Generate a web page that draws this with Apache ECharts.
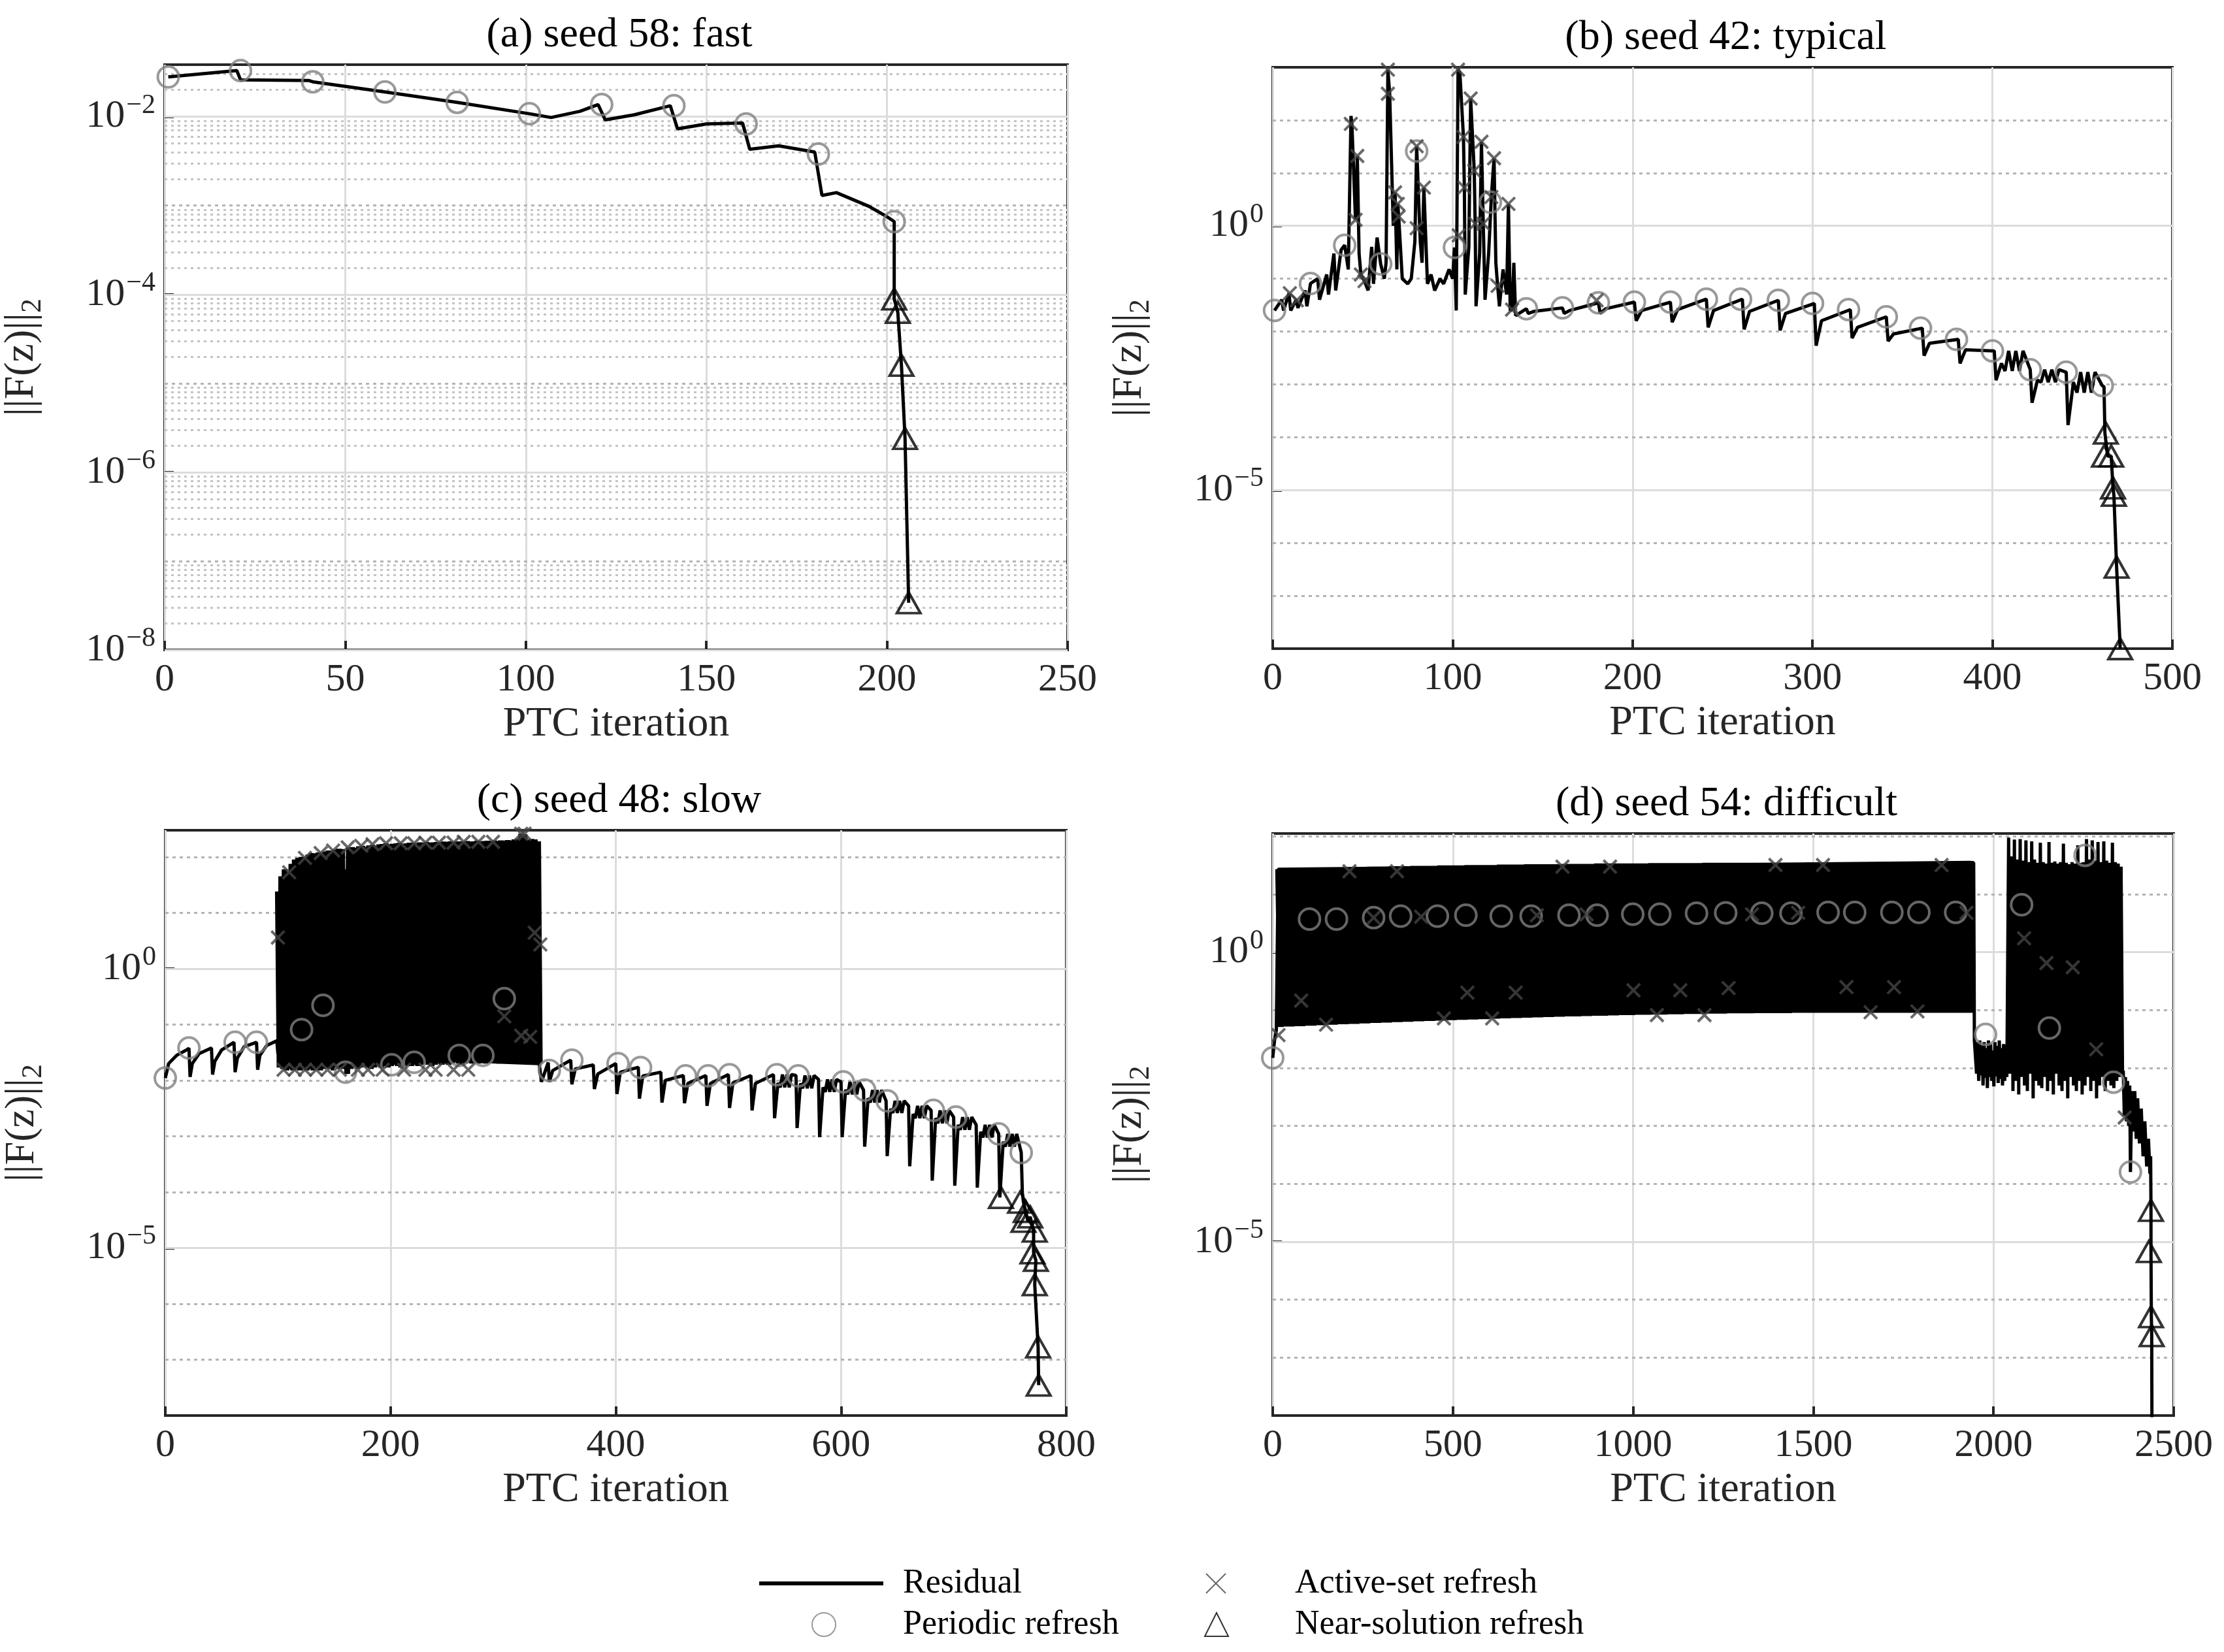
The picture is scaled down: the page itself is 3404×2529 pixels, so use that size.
<!DOCTYPE html>
<html>
<head>
<meta charset="utf-8">
<script src="https://cdn.jsdelivr.net/npm/echarts@6/dist/echarts.min.js"></script>
<style>html,body{margin:0;padding:0;background:#fff}#main{width:3404px;height:2529px}</style>
</head>
<body>
<div id="main"></div>
<script>
// ---- (a) seed 58: fast ----
var aLine = [[1,0.028],[20,0.033],[21,0.026],[40,0.0255],[41,0.0247],[61,0.019],[81,0.0145],[101,0.0108],[107,0.0098],
  [115,0.0115],[120,0.0137],[122,0.0092],[130,0.0105],[140,0.0133],[142,0.0073],[150,0.0083],[160,0.0085],[162,0.0043],
  [170,0.0047],[180,0.0040],[182,0.0013],[186,0.0014],[195,0.00098],[200,0.00075],[202,0.00066],[202,0.000089],
  [203,0.000063],[204,0.000016],[205,0.0000024],[206,0.000000034]];
var aPeriodic = [[1,0.028],[21,0.033],[41,0.0247],[61,0.019],[81,0.0145],[101,0.0108],[121,0.0137],[141,0.0133],[161,0.0083],[181,0.0038],[202,0.00066]];
var aActive = [];
var aNear = [[202,0.000089],[203,0.000063],[204,0.000016],[205,0.0000024],[206,0.000000034]];

// ---- (b) seed 42: typical ----
var bHead = [[1,0.025],[5,0.04],[6,0.025],[9,0.053],[10,0.025],[13,0.04],[14,0.028],[18,0.06],[19,0.03],[21,0.081],[25,0.1],
  [26,0.04],[30,0.12],[31,0.05],[34,0.3],[35,0.06],[38,0.35],[40,0.43],[42,0.15],[43.5,120],[44,85],[46,1.3],[47,21],[48,0.3],
  [49,0.12],[51,0.09],[53,0.06],[55,0.4],[56,0.08],[58,0.6],[60,0.19],[62,0.1],[63,0.2],[64,900],[65,316],[67,1],[68,4.3],
  [69,0.15],[69.5,2.6],[70,1.5],[72,0.1],[75,0.08],[77,0.1],[79,0.5],[80,32],[82,0.5],[83,0.2],[84,5.3],[86,0.08],[88,0.12],
  [90,0.06],[93,0.1],[95,0.08],[98,0.15],[100,0.1],[101,0.39],[102,0.025],[103,900],[104,800],[106,48],[106.5,5.3],[107,0.05],
  [109,0.4],[110,257],[112,11],[112.5,1.1],[113,0.03],[115,0.3],[116,39],[117,1.1],[118,0.04],[120,0.3],[121.5,3.5],[123,19],
  [124,0.2],[125,0.073],[126,0.03],[128,0.15],[130,0.05],[131,2.6],[132,0.025],[133,0.026],[134,0.2],[135,0.02]];
var bPeakX = [141,161,181,201,221,241,261,281,301,321,341,361,381,401,421,441];
var bPeakY = [0.027,0.028,0.035,0.036,0.036,0.041,0.041,0.039,0.034,0.026,0.019,0.0116,0.0071,0.0043,0.0019,0.0017];
var bDipY  = [0.022,0.022,0.022,0.016,0.015,0.012,0.011,0.0105,0.0054,0.0075,0.0066,0.0035,0.0025,0.0012,0.00045,0.00017];
var bRecY  = [0.024,0.025,0.027,0.025,0.026,0.025,0.024,0.022,0.016,0.012,0.009,0.006,0.0045,0.0025,0.0012,0.0011];
var bLoY   = [null,null,null,null,null,null,null,null,null,null,null,null,null,0.0018,0.0011,0.0007];
var bTail = [[461,0.00095],[462,0.0009],[462.5,0.00012],[463,0.00012],[464,0.000044],[466,0.000044],[467,0.000011],
  [467.5,0.000008],[469,0.00000035],[471,0.00000001]];
var bPeriodic = [[1,0.025],[21,0.081],[40,0.43],[60,0.19],[80,26],[101,0.39],[121,2.8],[141,0.027],[161,0.028],[181,0.035],
  [201,0.036],[221,0.036],[241,0.041],[260,0.041],[281,0.039],[300,0.034],[320,0.026],[341,0.019],[360,0.0116],[380,0.0071],
  [400,0.0043],[421,0.0019],[441,0.0017],[461,0.00095]];
var bActive = [[9.5,0.053],[13.4,0.039],[43.4,85],[47,21],[46,1.3],[49,0.12],[51,0.09],[64,900],[64,316],[68,4.3],[69.5,2.6],
  [70,1.5],[80,32],[80,0.9],[84,5.3],[103,900],[103.4,0.66],[106,48],[106.5,5.3],[110,257],[112,11],[112.5,1.1],[116,39],
  [117,1.1],[121.5,3.5],[123,19],[125,0.073],[131,2.6],[133,0.026],[180,0.039]];
var bNear = [[463,0.00012],[462,0.000044],[466,0.000044],[467,0.000011],[467.5,0.000008],[469,0.00000035],[471,0.00000001]];

// ---- (c) seed 48: slow ----
var cHead = [[0,0.011],[3,0.02],[10,0.028],[20,0.036],[21,0.038],[22,0.0115],[24,0.02],[30,0.03],[41,0.038],[42,0.0127],
  [44,0.022],[50,0.035],[61,0.048],[62,0.014],[64,0.025],[70,0.04],[81,0.048],[82,0.0155],[84,0.028],[90,0.042],[99,0.051],[100,0.03]];
var cOscStart = 100, cOscStep = 3;
var cOscTop = [24,45,60,53,75,90,96,100,96,110, 117,115,120,117,125,130,128,135,140,138,
  60,148,150,145,155,158,150,160,165,158, 168,170,175,168,172,175,178,170,175,180,
  178,175,182,180,185,178,182,185,180,188, 185,190,182,188,190,185,192,188,190,195,
  188,192,195,190,196,192,198,195,200,196, 205,210,260,255,200,210,205,190];
var cOscBot = [0.017,0.016,0.015,0.016,0.015,0.016,0.015,0.016,0.015,0.016, 0.015,0.016,0.015,0.016,0.017,0.016,0.015,0.016,0.017,0.016,
  0.013,0.016,0.017,0.016,0.017,0.018,0.017,0.016,0.017,0.018, 0.017,0.018,0.017,0.018,0.019,0.018,0.017,0.018,0.019,0.018,
  0.019,0.018,0.019,0.02,0.019,0.018,0.019,0.02,0.019,0.02, 0.019,0.02,0.021,0.02,0.019,0.02,0.021,0.02,0.021,0.02,
  0.021,0.02,0.021,0.022,0.021,0.02,0.021,0.022,0.021,0.02, 0.021,0.022,0.021,0.02,0.021,0.02,0.021,0.02];
var cMid = [[333,0.02],[334,0.0094]];
var cPeakX = [340,360,380,400,420,440,460,480,500,520,540,560,580,600,620,640,660,680,700,720,740,760];
var cPeakY = [0.0208,0.023,0.0189,0.020,0.0171,0.014,0.0122,0.0122,0.0127,0.0122,0.0127,0.0122,0.0104,0.0094,0.0067,0.0043,0.0035,0.0029,0.0022,0.0016,0.0011,0.00051];
var cDipY  = [0.0094,0.0085,0.0070,0.0057,0.0047,0.0040,0.0039,0.0035,0.0032,0.0029,0.0021,0.0014,0.00096,0.00096,0.00065,0.00044,0.00029,0.00016,0.00013,0.00012,0.00008,0.000098];
var cRecY  = [0.015,0.016,0.013,0.014,0.012,0.010,0.0088,0.0088,0.009,0.0088,0.009,0.0088,0.0075,0.0068,0.0048,0.0031,0.0025,0.0021,0.0016,0.0012,0.0008,null];
var cLoY   = [null,null,null,null,null,null,null,null,null,null,0.0075,0.0072,0.0062,0.0056,0.004,0.0026,0.0021,0.0017,0.0013,0.00095,0.00065,null];
var cTail = [[762,0.000066],[764,0.000045],[766,0.00003],[768,0.000036],[771,0.00002],[771,0.0000082],[773,0.000006],
  [772,0.0000022],[775,0.00000017],[775.5,0.000000035]];
var cPeriodic = [[0,0.011],[21,0.038],[62,0.048],[81,0.048],[121,0.081],[140,0.22],[160,0.014],[201,0.019],[221,0.021],
  [261,0.028],[282,0.028],[301,0.29],[341,0.015],[361,0.023],[402,0.020],[422,0.017],[462,0.012],[482,0.012],[501,0.0126],
  [543,0.0126],[562,0.012],[602,0.0094],[621,0.0067],[641,0.0043],[682,0.0029],[702,0.0022],[740,0.0011],[760,0.00051]];
var cActive = [[100,3.6],[110,53],[124,96],[138,117],[149,130],[162,148],[174,158],[184,168],[196,175],[209,175],[221,175],
  [231,180],[243,180],[256,180],[265,186],[278,186],[291,186],[316,260],[319,260],[328,4.4],[333,2.7],[301,0.14],[316,0.063],
  [324,0.06],[105,0.0155],[115,0.0155],[124,0.0155],[134,0.0155],[144,0.0155],[155,0.0155],[171,0.0155],[180,0.0155],
  [193,0.0155],[212,0.0155],[231,0.0155],[240,0.0155],[256,0.0155],[269,0.0155]];
var cNear = [[742,0.00008],[759,0.000066],[764,0.000045],[762,0.00003],[768,0.000036],[772,0.00002],[770,0.0000082],
  [773,0.000006],[772,0.0000022],[775,0.00000017],[775.5,0.000000035]];

// ---- (d) seed 54: difficult ----
var dHead = [[0,0.015],[5,0.03],[10,0.045]];
var dBandStart = 15, dBandStep = 15;
var dBandTop = [27,27,27.5,27.5,28,28,28,28.5,28.5,28.5,29,29,29,
  29,29.5,29.5,29.5,30,30,30,30,30.5,30.5,30.5,30.5,31,
  31,31,31,31,31.5,31.5,31.5,31.5,31.5,32,32,32,32,
  32,32,32.5,32.5,32.5,32.5,32.5,33,33,33,33,33,33,
  33,33.5,33.5,33.5,33.5,33.5,33.5,34,34,34,34,34,34,
  34,34,34,34,34.5,34.5,34.5,34.5,34.5,34.5,34.5,34.5,34.5,
  34.5,35,35,35,35,35,35,35,35,35,35,35,35,
  35,35,35,35,35,35,35,35.5,35.5,35.5,35.5,35.5,35.5,
  35.5,35.5,35.5,35.5,35.5,35.5,35.5,35.5,35.5,35.5,35.5,35.5,35.5,
  35.5,35.5,35.5,35.5,35.5,35.5,35.5,35.5,35.5,35.5,35.5,35.5];
var dBandBot = [0.051,0.052,0.052,0.053,0.053,0.054,0.054,0.055,0.055,0.056,0.056,0.057,0.057,
  0.058,0.058,0.059,0.059,0.06,0.06,0.061,0.061,0.062,0.062,0.063,0.063,0.064,
  0.064,0.065,0.065,0.066,0.066,0.067,0.067,0.068,0.068,0.069,0.069,0.07,0.07,
  0.071,0.071,0.072,0.072,0.073,0.073,0.074,0.074,0.075,0.075,0.076,0.076,0.077,
  0.077,0.078,0.078,0.078,0.079,0.079,0.08,0.08,0.08,0.081,0.081,0.082,0.082,
  0.082,0.083,0.083,0.083,0.084,0.084,0.084,0.085,0.085,0.085,0.086,0.086,0.086,
  0.086,0.087,0.087,0.087,0.087,0.088,0.088,0.088,0.088,0.088,0.089,0.089,0.089,
  0.089,0.089,0.089,0.089,0.09,0.09,0.09,0.09,0.09,0.09,0.09,0.09,0.09,
  0.09,0.09,0.09,0.09,0.09,0.09,0.09,0.09,0.09,0.09,0.09,0.09,0.09,
  0.09,0.09,0.09,0.09,0.09,0.09,0.09,0.09,0.09,0.09,0.09,0.09];
var dDropStart = 1950, dDropStep = 6;
var dDropTop = [0.03,0.028,0.03,0.025,0.028,0.022,0.03,0.026,0.02,0.028,0.024,0.03,0.022,0.026,0.025];
var dDropBot = [0.008,0.006,0.0075,0.005,0.0068,0.0045,0.007,0.006,0.0048,0.0072,0.0055,0.0065,0.005,0.006,0.007];
var dBand2Start = 2042, dBand2Step = 8;
var dBand2Top = [95,45,88,40,90,38,85,36,82,40,35,78,36,34,80,35,37,34,36,75,35,33,36,34,70,35,36,90,40,85,38,80,36,82,38,35,78,36,34,30];
var dBand2Bot = [0.008,0.004,0.006,0.0035,0.007,0.005,0.004,0.008,0.003,0.006,0.005,0.0045,0.007,0.004,0.006,0.0035,0.008,0.005,0.004,0.006,
  0.003,0.007,0.005,0.004,0.006,0.0035,0.005,0.007,0.004,0.006,0.003,0.005,0.007,0.004,0.006,0.005,0.0045,0.006,0.007,0.008];
var dTail = [[2360,0.009],[2363,0.0015],[2366,0.007],[2369,0.0012],[2372,0.006],[2375,0.001],[2378,0.005],[2380,0.00016],
  [2384,0.004],[2388,0.0008],[2392,0.004],[2396,0.0006],[2400,0.003],[2405,0.0005],[2410,0.002],[2415,0.0003],[2420,0.0012],
  [2425,0.0002],[2430,0.0006],[2434,0.00015],[2436,0.0003],[2437,0.000035],[2437,0.0000068],[2438,0.00000051],
  [2439,0.00000024],[2440,0.000000001]];
var dPeriodic = [[0,0.015],[102,3.73],[177,3.73],[280,3.95],[355,4.19],[457,4.19],[536,4.35],[634,4.19],[717,4.19],[822,4.35],
  [900,4.35],[999,4.52],[1074,4.52],[1176,4.7],[1257,4.78],[1357,4.7],[1438,4.7],[1541,4.88],[1615,4.88],[1718,4.88],
  [1793,4.88],[1895,4.88],[1978,0.038],[2078,6.6],[2155,0.049],[2254,47],[2333,0.0057],[2380,0.00016]];
var dActive = [[16,0.037],[79,0.146],[148,0.056],[213,25],[280,3.95],[345,25],[412,4.1],[475,0.072],[540,0.2],[609,0.072],
  [674,0.2],[733,4.35],[804,30],[871,4.5],[936,30],[1001,0.22],[1066,0.082],[1131,0.22],[1198,0.082],[1265,0.24],[1330,4.5],
  [1395,32],[1458,4.78],[1527,32],[1592,0.25],[1659,0.092],[1724,0.25],[1789,0.095],[1856,32],[1925,4.78],[2085,1.74],
  [2147,0.65],[2220,0.55],[2285,0.021],[2364,0.0014]];
var dNear = [[2437,0.000035],[2431,0.0000068],[2437,0.00000051],[2439,0.00000024]];

// ---- build residual lines from the arrays ----
function osc(start, step, top, bot) {
  var out = [];
  for (var i = 0; i < top.length; i++) {
    out.push([start + i * step, top[i]]);
    out.push([start + i * step + step / 2, bot[i]]);
  }
  return out;
}
function blocks(px, py, dip, rec, lo) {
  var out = [];
  for (var i = 0; i < px.length; i++) {
    out.push([px[i], py[i]]);
    out.push([px[i] + 1, dip[i]]);
    if (rec[i] != null) out.push([px[i] + 4, rec[i]]);
    if (lo[i] != null) {
      for (var k = 6; k <= 16; k += 4) {
        out.push([px[i] + k, lo[i]]);
        out.push([px[i] + k + 2, py[i]]);
      }
    }
  }
  return out;
}
var bLine = bHead.concat(blocks(bPeakX, bPeakY, bDipY, bRecY, bLoY), bTail);
var cBand = osc(cOscStart, cOscStep, cOscTop, cOscBot);
var cLine = cHead.concat(cMid, blocks(cPeakX, cPeakY, cDipY, cRecY, cLoY), cTail);
cLine.splice(cHead.length, 0, [332, 0.02]);
var dBand = osc(dBandStart, dBandStep, dBandTop, dBandBot);
var dLine = dHead.concat([[15, 27]], [[1935, 35.5], [1945, 35], [1947, 0.03]],
  osc(dDropStart, dDropStep, dDropTop, dDropBot), osc(dBand2Start, dBand2Step, dBand2Top, dBand2Bot), dTail);

var panels = [
  {title: '(a) seed 58: fast', grid: {left: 252, top: 99, width: 1382, height: 896}, xmax: 250, xint: 50,
   ymax: 0.0385, labels: [-2, -4, -6, -8], minor: true,
   line: aLine, band: null, per: aPeriodic, act: aActive, near: aNear},
  {title: '(b) seed 42: typical', grid: {left: 1948, top: 103, width: 1377, height: 890}, xmax: 500, xint: 100,
   ymax: 1000, labels: [0, -5], minor: false,
   line: bLine, band: null, per: bPeriodic, act: bActive, near: bNear},
  {title: '(c) seed 48: slow', grid: {left: 253, top: 1271, width: 1379, height: 896}, xmax: 800, xint: 200,
   ymax: 300, labels: [0, -5], minor: false,
   line: cLine, band: cBand, per: cPeriodic, act: cActive, near: cNear},
  {title: '(d) seed 54: difficult', grid: {left: 1948, top: 1276, width: 1379, height: 891}, xmax: 2500, xint: 500,
   ymax: 112, labels: [0, -5], minor: false,
   line: dLine, band: dBand, per: dPeriodic, act: dActive, near: dNear}
];

var FONT = 'Liberation Serif';
var INK = '#262626';
var CROSS = 'path://M0,0L10,10M10,0L0,10';
function legendItem(name, left, top, w, h, pad, icon) {
  var d = {name: name};
  if (icon) d.icon = icon;
  return {data: [d], left: left, top: top, itemWidth: w, itemHeight: h, selectedMode: false,
    textStyle: {fontFamily: FONT, fontSize: 52, color: '#000', padding: [0, 0, 0, pad]}};
}
var option = {
  backgroundColor: '#fff',
  animation: false,
  textStyle: {fontFamily: FONT, color: INK},
  title: [], grid: [], xAxis: [], yAxis: [], series: [],
  legend: [
    legendItem('Residual', 1157, 2393, 190, 6, 25, 'rect'),
    legendItem('Periodic refresh', 1237, 2456, 36, 36, 98),
    legendItem('Active-set refresh', 1840, 2393, 30, 30, 101),
    legendItem('Near-solution refresh', 1838, 2456, 36, 36, 97)
  ]
};

panels.forEach(function (p, i) {
  var labs = p.labels;
  var decades = [];
  for (var e = -8; Math.pow(10, e) <= p.ymax * 1.0001; e++) decades.push(Math.pow(10, e));
  var majors = labs.map(function (e) { return Math.pow(10, e); });

  option.grid.push(Object.assign({show: true, borderColor: INK, borderWidth: 4, backgroundColor: '#fff'}, p.grid));
  option.title.push({text: p.title, left: p.grid.left + p.grid.width / 2, top: p.grid.top - 82, textAlign: 'center',
    textStyle: {fontFamily: FONT, fontSize: 64, fontWeight: 'normal', color: '#000'}});
  option.xAxis.push({type: 'value', gridIndex: i, min: 0, max: p.xmax, interval: p.xint,
    name: 'PTC iteration', nameLocation: 'middle', nameGap: 82,
    nameTextStyle: {fontFamily: FONT, fontSize: 64, color: INK},
    axisLine: {show: false}, axisTick: {inside: true, length: 14, lineStyle: {color: INK, width: 4}},
    axisLabel: {fontFamily: FONT, fontSize: 60, color: INK, margin: 16, formatter: function (v) { return String(v); }},
    splitLine: {show: true, lineStyle: {color: '#dcdcdc', width: 3}}});
  option.yAxis.push({type: 'log', gridIndex: i, logBase: 10, min: 1e-8, max: p.ymax,
    name: '||F(z)||{sub|2}', nameLocation: 'middle', nameGap: 180, nameRotate: 90,
    nameTextStyle: {fontFamily: FONT, fontSize: 64, color: INK, rich: {sub: {fontFamily: FONT, fontSize: 44, color: INK, padding: [34, 0, 0, 0]}}},
    axisLine: {show: false},
    axisTick: {inside: true, length: 14, lineStyle: {color: INK, width: 4}, customValues: majors},
    axisLabel: {margin: 14, color: INK, fontFamily: FONT, fontSize: 60, customValues: majors,
      formatter: function (v) {
        var e = Math.round(Math.log10(v));
        return '10{sup|' + (e < 0 ? '\u2212' + (-e) : e) + '}';
      },
      rich: {sup: {fontFamily: FONT, fontSize: 42, color: INK, verticalAlign: 'top', padding: [0, 0, 34, 2]}}},
    splitLine: {show: false}});

  // grid lines: solid at labelled decades, dotted elsewhere
  var gl = [];
  decades.forEach(function (v) {
    var e = Math.round(Math.log10(v));
    if (labs.indexOf(e) >= 0) gl.push({yAxis: v, lineStyle: {type: 'solid', color: '#dcdcdc', width: 3}});
    else if (v < p.ymax * 0.999 && e > -8) gl.push({yAxis: v, lineStyle: {type: [5, 6], color: '#b4b4b4', width: 3}});
    if (p.minor) {
      for (var k = 2; k <= 9; k++) {
        var m = k * v;
        if (m < p.ymax) gl.push({yAxis: m, lineStyle: {type: [4, 6], color: '#c4c4c4', width: 3}});
      }
    }
  });
  option.series.push({name: 'Residual', type: 'line', xAxisIndex: i, yAxisIndex: i, data: p.line, showSymbol: false,
    symbol: 'none', z: 3, clip: true, lineStyle: {color: '#000', width: 5}, itemStyle: {color: '#000'},
    markLine: {silent: true, symbol: 'none', z: 1, precision: 12, label: {show: false}, data: gl}});
  if (p.band) {
    option.series.push({name: 'Residual', type: 'line', xAxisIndex: i, yAxisIndex: i, data: p.band, showSymbol: false,
      symbol: 'none', z: 3, clip: true, lineStyle: {color: '#000', width: 9}, itemStyle: {color: '#000'}});
  }
  option.series.push({name: 'Periodic refresh', type: 'scatter', xAxisIndex: i, yAxisIndex: i, data: p.per, symbol: 'circle',
    symbolSize: 32, z: 4, itemStyle: {color: 'rgba(0,0,0,0)', borderColor: '#808080', borderWidth: 4}});
  option.series.push({name: 'Active-set refresh', type: 'scatter', xAxisIndex: i, yAxisIndex: i, data: p.act,
    symbol: CROSS, symbolSize: 20, z: 5,
    itemStyle: {color: 'rgba(0,0,0,0)', borderColor: '#444', borderWidth: 4}});
  option.series.push({name: 'Near-solution refresh', type: 'scatter', xAxisIndex: i, yAxisIndex: i, data: p.near,
    symbol: 'triangle', symbolSize: [36, 32], z: 6, itemStyle: {color: 'rgba(0,0,0,0)', borderColor: '#000', borderWidth: 4}});
});

var myChart = echarts.init(document.getElementById('main'));
myChart.setOption(option);
</script>
</body>
</html>
